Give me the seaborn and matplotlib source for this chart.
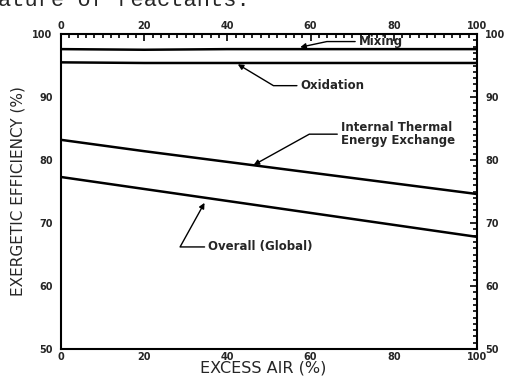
import matplotlib
matplotlib.use("Agg")
import matplotlib.pyplot as plt
import seaborn as sns
import pandas as pd
from matplotlib.ticker import MultipleLocator

excess_air = [0, 20, 40, 60, 80, 100]
mixing = [97.6, 97.5, 97.6, 97.6, 97.6, 97.6]
oxidation = [95.5, 95.4, 95.4, 95.4, 95.4, 95.4]
internal = [83.2, 81.4, 79.7, 78.0, 76.3, 74.6]
overall = [77.3, 75.4, 73.5, 71.6, 69.7, 67.8]
series_names = ["Mixing", "Oxidation", "Internal Thermal\nEnergy Exchange", "Overall (Global)"]
tick_vals_x = [0, 20, 40, 60, 80, 100]
tick_vals_y = [50, 60, 70, 80, 90, 100]

rows = []
for name, vals in zip(series_names, [mixing, oxidation, internal, overall]):
    for x, v in zip(excess_air, vals):
        rows.append({"x": x, "y": v, "series": name})
df = pd.DataFrame(rows)

sns.set_style("white")
plt.rcParams["font.family"] = ["DejaVu Sans"]

fig = plt.figure(figsize=(5.11, 3.79), dpi=100)
ax = fig.add_axes([61 / 511, 1 - 349 / 379, 416 / 511, 315 / 379])

sns.lineplot(data=df, x="x", y="y", hue="series", palette=["black"] * 4,
             linewidth=1.8, legend=False, ax=ax)

ax.set_xlim(0, 100)
ax.set_ylim(50, 100)
ax.set_xticks(tick_vals_x)
ax.set_yticks(tick_vals_y)
ax.xaxis.set_minor_locator(MultipleLocator(2))
ax.yaxis.set_minor_locator(MultipleLocator(1))
ax.tick_params(which="both", direction="in", top=True, right=True,
               labeltop=True, labelright=True, width=1.2, color="black")
ax.tick_params(which="major", length=5, labelsize=7)
ax.tick_params(which="minor", length=3)
ax.tick_params(axis="x", which="major", pad=2)
ax.tick_params(axis="y", which="major", pad=6)
for lab in ax.get_xticklabels() + ax.get_yticklabels():
    lab.set_fontweight("bold")
for sp in ax.spines.values():
    sp.set_linewidth(1.5)
    sp.set_color("black")

ax.set_xlabel("EXCESS AIR (%)", fontsize=11.5, labelpad=-1, x=0.485)
ax.set_ylabel("EXERGETIC EFFICIENCY (%)", fontsize=11, labelpad=5)

arrow = dict(arrowstyle="-|>", color="black", lw=1.0, mutation_scale=8, shrinkA=0, shrinkB=0)
afont = dict(fontsize=8.5, fontweight="bold", va="center")

ax.annotate("Mixing", xy=(57.5, 97.9), xytext=(71.5, 98.8), **afont,
            arrowprops=dict(arrow, connectionstyle="angle,angleA=0,angleB=12,rad=0"))
ax.annotate("Oxidation", xy=(42.5, 95.2), xytext=(57.5, 91.8), **afont,
            arrowprops=dict(arrow, connectionstyle="angle,angleA=0,angleB=-31,rad=0"))
ax.annotate("Internal Thermal\nEnergy Exchange", xy=(46.3, 79.2), xytext=(67.2, 84.1),
            linespacing=1.0, **afont,
            arrowprops=dict(arrow, connectionstyle="angle,angleA=0,angleB=29,rad=0"))
ax.annotate("Overall (Global)", xy=(34.5, 73.2), xytext=(35.3, 66.2), **afont,
            arrowprops=dict(arrow, connectionstyle="angle,angleA=0,angleB=61,rad=0"))

fig.text(-0.004, 1 - 6 / 379, "ature of reactants.", fontsize=15.8,
         family="Liberation Mono", va="baseline", ha="left")

fig.savefig("out.png", dpi=100)
